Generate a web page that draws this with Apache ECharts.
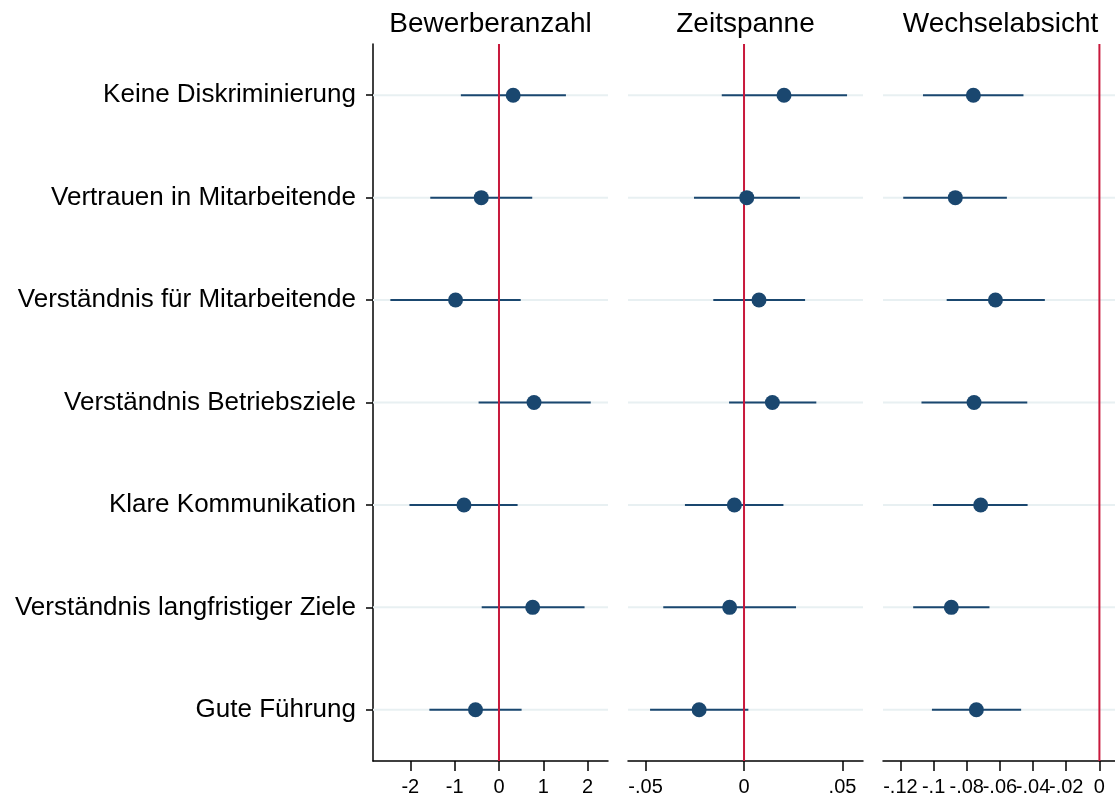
<!DOCTYPE html>
<html>
<head>
<meta charset="utf-8">
<script src="https://cdn.jsdelivr.net/npm/echarts@6/dist/echarts.min.js"></script>
<style>
  html, body { margin: 0; padding: 0; background: #fff; }
  #chart { width: 1115px; height: 799px; }
</style>
</head>
<body>
<div id="chart"></div>
<script>
// Kategorien (von oben nach unten)
const categories = [
  'Keine Diskriminierung',
  'Vertrauen in Mitarbeitende',
  'Verständnis für Mitarbeitende',
  'Verständnis Betriebsziele',
  'Klare Kommunikation',
  'Verständnis langfristiger Ziele',
  'Gute Führung'
];

// Bewerberanzahl
const bewEst = [0.32, -0.40, -0.98, 0.79, -0.79, 0.76, -0.53];
const bewLo = [-0.86, -1.55, -2.45, -0.46, -2.02, -0.39, -1.57];
const bewHi = [1.51, 0.75, 0.49, 2.07, 0.42, 1.93, 0.51];
const bewTicks = [-2, -1, 0, 1, 2];

// Zeitspanne
const zeitEst = [0.0203, 0.0014, 0.0076, 0.0144, -0.0049, -0.0073, -0.0228];
const zeitLo = [-0.0113, -0.0254, -0.0156, -0.0076, -0.0300, -0.0410, -0.0477];
const zeitHi = [0.0523, 0.0284, 0.0310, 0.0367, 0.0200, 0.0264, 0.0022];
const zeitTicks = [-0.05, 0, 0.05];

// Wechselabsicht
const wechEst = [-0.0760, -0.0869, -0.0627, -0.0756, -0.0716, -0.0893, -0.0742];
const wechLo = [-0.1064, -0.1183, -0.0921, -0.1073, -0.1004, -0.1123, -0.1010];
const wechHi = [-0.0458, -0.0558, -0.0329, -0.0435, -0.0433, -0.0663, -0.0472];
const wechTicks = [-0.12, -0.1, -0.08, -0.06, -0.04, -0.02, 0];

const titles = ['Bewerberanzahl', 'Zeitspanne', 'Wechselabsicht'];

const panels = [
  { est: bewEst, lo: bewLo, hi: bewHi, ticks: bewTicks, min: -2.842, max: 2.459 },
  { est: zeitEst, lo: zeitLo, hi: zeitHi, ticks: zeitTicks, min: -0.0589, max: 0.0604 },
  { est: wechEst, lo: wechLo, hi: wechHi, ticks: wechTicks, min: -0.1305, max: 0.0094 }
];

const FONT = '"Liberation Sans", Arial, Helvetica, sans-serif';
const navy = '#1a476f';
const red = '#c8193c';
const gridColor = '#e8f0f2';

const gridLeft = [373, 628, 883];
const gridWidth = 235;
const gridTop = 44;
const gridHeight = 717;

// Stata-artige Zahlen: -.05 statt -0.05
function fmt(v) {
  if (v === 0) return '0';
  let s = String(Math.round(v * 1000) / 1000);
  return s.replace(/^(-?)0\./, '$1.');
}

const chart = echarts.init(document.getElementById('chart'));

const grids = [];
const xAxes = [];
const yAxes = [];
const series = [];
const graphics = [];

panels.forEach(function (p, i) {
  grids.push({ left: gridLeft[i], top: gridTop, width: gridWidth, height: gridHeight });

  xAxes.push({
    type: 'value',
    gridIndex: i,
    min: p.min,
    max: p.max,
    splitLine: { show: false },
    axisLine: { show: true, onZero: false, lineStyle: { color: '#000', width: 1.5 } },
    axisTick: { show: true, length: 10, customValues: p.ticks, lineStyle: { color: '#000', width: 1.5 } },
    axisLabel: {
      customValues: p.ticks,
      formatter: fmt,
      fontSize: 20,
      fontFamily: FONT,
      color: '#000',
      margin: 16
    }
  });

  yAxes.push({
    type: 'category',
    gridIndex: i,
    data: categories,
    inverse: true,
    boundaryGap: true,
    show: i === 0,
    splitLine: { show: false },
    axisLine: { show: true, onZero: false, lineStyle: { color: '#000', width: 1.5 } },
    axisTick: { show: true, alignWithLabel: true, length: 7, lineStyle: { color: '#000', width: 1.5 } },
    axisLabel: { fontSize: 26, fontFamily: FONT, color: '#000', margin: 17 }
  });

  // horizontale Hilfslinien
  series.push({
    type: 'custom',
    xAxisIndex: i,
    yAxisIndex: i,
    silent: true,
    z: 1,
    data: categories.map(function (c, k) { return [0, k]; }),
    renderItem: function (params, api) {
      const y = api.coord([0, api.value(1)])[1];
      const cs = params.coordSys;
      return {
        type: 'line',
        shape: { x1: cs.x, y1: y, x2: cs.x + cs.width, y2: y },
        style: { stroke: gridColor, lineWidth: 2 }
      };
    }
  });

  // Konfidenzintervalle
  series.push({
    type: 'custom',
    xAxisIndex: i,
    yAxisIndex: i,
    z: 2,
    encode: { x: [0, 1], y: 2 },
    data: p.lo.map(function (lo, k) { return [lo, p.hi[k], k]; }),
    renderItem: function (params, api) {
      const a = api.coord([api.value(0), api.value(2)]);
      const b = api.coord([api.value(1), api.value(2)]);
      return {
        type: 'line',
        shape: { x1: a[0], y1: a[1], x2: b[0], y2: b[1] },
        style: { stroke: navy, lineWidth: 2 }
      };
    }
  });

  // Nulllinie
  series.push({
    type: 'custom',
    xAxisIndex: i,
    yAxisIndex: i,
    silent: true,
    z: 3,
    data: [[0, 0]],
    renderItem: function (params, api) {
      const x = api.coord([api.value(0), 0])[0];
      const cs = params.coordSys;
      return {
        type: 'line',
        shape: { x1: x, y1: cs.y, x2: x, y2: cs.y + cs.height },
        style: { stroke: red, lineWidth: 2 }
      };
    }
  });

  // Punktschätzer
  series.push({
    type: 'scatter',
    xAxisIndex: i,
    yAxisIndex: i,
    z: 4,
    symbol: 'circle',
    symbolSize: 15,
    itemStyle: { color: navy, opacity: 1 },
    data: p.est.map(function (v, k) { return [v, k]; })
  });

  graphics.push({
    type: 'text',
    x: gridLeft[i] + gridWidth / 2,
    y: 10,
    style: {
      text: titles[i],
      fontSize: 28,
      fontFamily: FONT,
      fill: '#000',
      textAlign: 'center',
      textVerticalAlign: 'top'
    }
  });
});

chart.setOption({
  backgroundColor: '#fff',
  animation: false,
  grid: grids,
  xAxis: xAxes,
  yAxis: yAxes,
  series: series,
  graphic: graphics
});
</script>
</body>
</html>
